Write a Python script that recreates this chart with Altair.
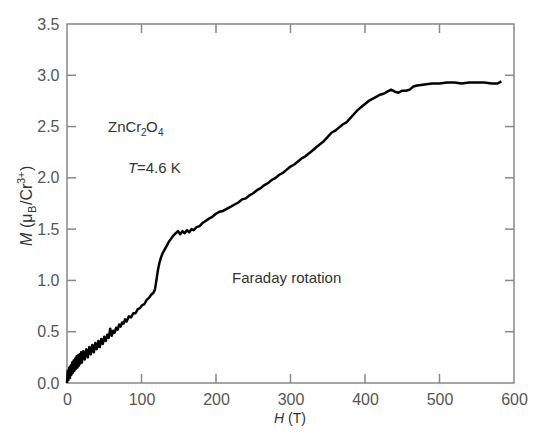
import altair as alt
import pandas as pd

FONT = "Liberation Sans"

# Magnetization curve
field_T = [0, 1, 2, 3, 4, 5, 6, 7, 8, 9, 10, 11, 12, 13, 14, 15, 16, 17, 18, 19, 20,
           22, 24, 26, 28, 30, 32, 34, 36, 38, 40, 42, 44, 46, 48, 50, 52, 54, 56, 58, 60,
           62, 64, 66, 68, 70, 72, 74, 76, 78, 80, 83, 86, 89, 92, 95, 98, 101, 104, 107, 110,
           113, 116, 118,
           120, 122, 124, 126, 128, 131, 134, 137, 140, 143, 146, 149, 152, 155, 158, 161, 164,
           167, 170, 174, 178, 182, 186, 190, 195, 200, 205, 210, 215, 220, 225, 230, 235, 240,
           245, 250, 255, 260, 265, 270, 275, 280, 285, 290, 295, 300, 305, 310, 315, 320, 325,
           330, 335, 340, 345, 350, 355, 360, 365, 370, 375, 380, 385, 390, 395, 400, 405, 410,
           415, 420, 425, 430, 435, 440, 445, 450, 455, 460, 465, 470, 480, 490, 500, 510, 520,
           530, 540, 550, 560, 570, 578, 583]
magnet = [0.00, 0.12, 0.03, 0.15, 0.05, 0.17, 0.08, 0.20, 0.10, 0.22, 0.12, 0.24, 0.14, 0.26,
          0.15, 0.27, 0.17, 0.28, 0.19, 0.30, 0.20,
          0.31, 0.23, 0.33, 0.25, 0.35, 0.28, 0.37, 0.30, 0.39, 0.33, 0.41, 0.35, 0.43, 0.38,
          0.45, 0.41, 0.47, 0.44, 0.53, 0.46,
          0.51, 0.49, 0.54, 0.52, 0.57, 0.55, 0.59, 0.58, 0.62, 0.60, 0.65, 0.64, 0.68, 0.68,
          0.72, 0.73, 0.76, 0.77, 0.81, 0.83, 0.86, 0.88, 0.91,
          1.00, 1.10, 1.17, 1.22, 1.26, 1.30, 1.34, 1.38, 1.41, 1.44, 1.46, 1.48, 1.45, 1.48,
          1.46, 1.49, 1.47, 1.50, 1.49, 1.52, 1.53, 1.56, 1.58, 1.60, 1.62, 1.65, 1.67, 1.68,
          1.70, 1.72, 1.74, 1.76, 1.79, 1.80, 1.83, 1.85, 1.88, 1.90, 1.93, 1.95, 1.98, 2.00,
          2.03, 2.05, 2.08, 2.11, 2.13, 2.16, 2.19, 2.21, 2.24, 2.27, 2.30, 2.33, 2.36, 2.40,
          2.44, 2.46, 2.49, 2.52, 2.54, 2.58, 2.62, 2.66, 2.69, 2.72, 2.75, 2.77, 2.79, 2.81,
          2.82, 2.84, 2.86, 2.84, 2.83, 2.85, 2.85, 2.86, 2.89, 2.90, 2.91, 2.92, 2.92, 2.93,
          2.93, 2.92, 2.93, 2.93, 2.93, 2.92, 2.92, 2.94]

x_labels = [0, 100, 200, 300, 400, 500, 600]
y_labels = [0.0, 0.5, 1.0, 1.5, 2.0, 2.5, 3.0, 3.5]
x_inner_ticks = [100, 200, 300, 400, 500]
y_inner_ticks = [0.5, 1.0, 1.5, 2.0, 2.5, 3.0]

W, H = 447, 359
TICK = 9
AX = "#888888"
TXT = "#333333"

df = pd.DataFrame({"H": field_T, "M": magnet})

x_enc_axis = alt.Axis(values=x_labels, format="d", ticks=False, domain=False, grid=False,
                      labelFontSize=16, labelColor="#555555", labelFont=FONT,
                      labelPadding=8, labelFlush=False, title=None)
y_enc_axis = alt.Axis(values=y_labels, format=".1f", ticks=False, domain=False, grid=False,
                      labelFontSize=16, labelColor="#555555", labelFont=FONT,
                      labelPadding=8, labelFlush=False, title=None)
xs = alt.Scale(domain=[0, 600], nice=False)
ys = alt.Scale(domain=[0, 3.5], nice=False)


def X(field="H"):
    return alt.X(f"{field}:Q", scale=xs, axis=x_enc_axis)


def Y(field="M"):
    return alt.Y(f"{field}:Q", scale=ys, axis=y_enc_axis)


line = alt.Chart(df).mark_line(color="black", strokeWidth=2.5, strokeJoin="round").encode(
    x=X(), y=Y()
)

xt = pd.DataFrame({"H": x_inner_ticks})
yt = pd.DataFrame({"M": y_inner_ticks})
tick_style = dict(color=AX, strokeWidth=1.5)
bottom_ticks = alt.Chart(xt).mark_rule(**tick_style).encode(
    x=X(), y=alt.value(H), y2=alt.value(H - TICK))
top_ticks = alt.Chart(xt).mark_rule(**tick_style).encode(
    x=X(), y=alt.value(0), y2=alt.value(TICK))
left_ticks = alt.Chart(yt).mark_rule(**tick_style).encode(
    y=Y(), x=alt.value(0), x2=alt.value(TICK))
right_ticks = alt.Chart(yt).mark_rule(**tick_style).encode(
    y=Y(), x=alt.value(W), x2=alt.value(W - TICK))


def txt(s, x, y, size=15, italic=False, angle=0):
    return alt.Chart(pd.DataFrame({"s": [s]})).mark_text(
        align="left", baseline="alphabetic", fontSize=size, font=FONT,
        fontStyle="italic" if italic else "normal", angle=angle, color=TXT
    ).encode(text="s:N", x=alt.value(x), y=alt.value(y))


texts = [
    # ZnCr2O4
    txt("ZnCr", 41, 108), txt("2", 74, 112, size=10), txt("O", 79, 108), txt("4", 91, 112, size=10),
    # T=4.6 K
    txt("T", 61, 149, italic=True), txt("=4.6 K", 70, 149),
    # Faraday rotation
    txt("Faraday rotation", 165, 259),
    # x title
    txt("H", 207, 399, size=14, italic=True), txt("(T)", 221, 399, size=14),
    # y title (rotated, reading upward)
    txt("M", -35, 222, size=16, italic=True, angle=270),
    txt("(μ", -35, 204, size=16, angle=270),
    txt("B", -31, 189, size=11, angle=270),
    txt("/Cr", -35, 181, size=16, angle=270),
    txt("3+", -42, 160, size=11, angle=270),
    txt(")", -35, 147, size=16, angle=270),
]

chart = alt.layer(line, bottom_ticks, top_ticks, left_ticks, right_ticks, *texts).properties(
    width=W, height=H, autosize="none",
    padding={"left": 59, "top": 16, "right": 15, "bottom": 44},
    background="white",
).configure_view(stroke=AX, strokeWidth=1.5)

chart.save("out.html", embed_options={"renderer": "svg", "actions": False})
